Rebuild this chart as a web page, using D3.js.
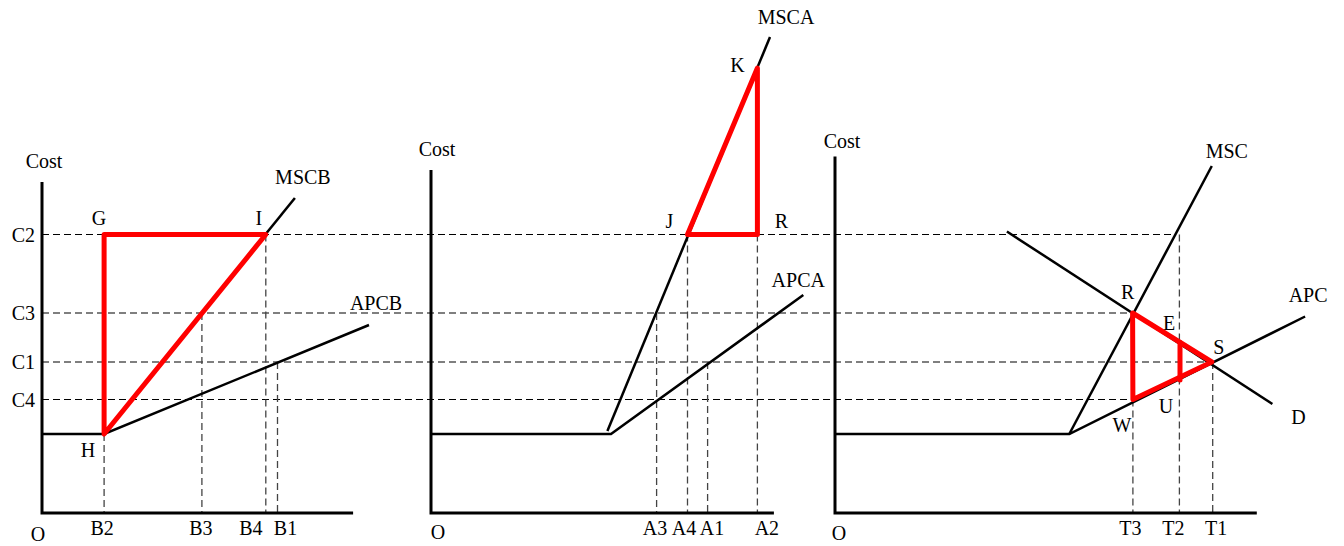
<!DOCTYPE html>
<html lang="en">
<head>
<meta charset="UTF-8" />
<title>Cost diagrams</title>
<script src="https://d3js.org/d3.v7.min.js"></script>
<style>
  body { margin: 0; background: #fff; }
  svg { display: block; }
  svg text {
    font-family: "Liberation Serif", "Times New Roman", Times, "DejaVu Serif", serif;
    font-size: 20px;
    fill: #000;
  }
  .guide { stroke: #000; stroke-width: 1.2; stroke-dasharray: 7,4; fill: none; }
  .drop { stroke: #444; stroke-width: 1.3; stroke-dasharray: 7,4; fill: none; }
  .curve { stroke: #000; stroke-width: 2.5; fill: none; }
  .axis { stroke: #000; stroke-width: 3; fill: none; }
  .red { stroke: #ff0000; stroke-width: 5; fill: none; stroke-linejoin: round; stroke-linecap: round; }
</style>
</head>
<body>
<div id="chart"></div>

<script>
// cost levels (shared by all three panels), cost units 0-100
const costNames = ["C2", "C3", "C1", "C4"];
const costValues = [55.7, 40, 30.2, 22.7];
// quantity in the third panel where each cost guide stops
const costEnds = [112.8, 99.2, 125.6, 99.3];

// axis extents per panel: quantity max and cost top
const axisQMax = [103.7, 114.3, 140.6];
const axisCTop = [66.2, 68.6, 71.3];

// panel 1 (B)
const qNamesB = ["B2", "B3", "B4", "B1"];
const qValuesB = [20.7, 53.3, 74.6, 78.5];
const qTopsB = [15.8, 40, 55.7, 30.2];
const apcbPts = [[0, 15.8], [20.7, 15.8], [109, 37.6]];
const mscbPts = [[20.7, 15.8], [84.3, 63]];
const triB = [["G", 20.7, 55.7], ["I", 74.6, 55.7], ["H", 20.7, 15.8]];

// panel 2 (A)
const qNamesA = ["A3", "A4", "A1", "A2"];
const qValuesA = [75.2, 85.5, 92.2, 108.8];
const qTopsA = [40, 55.7, 30.2, 55.7];
const apcaPts = [[0, 15.8], [60, 15.8], [124.1, 43.6]];
const mscaPts = [[58.8, 16.4], [113, 95.2]];
const triA = [["J", 85.5, 55.7], ["K", 108.8, 89], ["R", 108.8, 55.7]];

// panel 3 (T)
const qNamesT = ["T3", "T2", "T1"];
const qValuesT = [99.3, 114.8, 125.9];
const qTopsT = [22.7, 55.7, 30.2];
const apcPts = [[0, 15.8], [78.1, 15.8], [156.7, 39.3]];
const mscPts = [[78.1, 15.8], [125.6, 69.4]];
const dPts = [[57.3, 56.3], [145.8, 21.8]];
const triT = [["R", 99.2, 40], ["S", 125.6, 30.2], ["W", 99.3, 22.7]];
const segT = [["E", 115, 34.1], ["U", 115, 26.6]];

const width = 1344, height = 546;

const svg = d3.select("#chart").append("svg")
  .attr("width", width)
  .attr("height", height)
  .attr("font-family", "Liberation Serif, serif");

const y = d3.scaleLinear().domain([0, 100]).range([513, 13]);
const origins = [42, 431, 835];
const xs = origins.map(x0 => d3.scaleLinear().domain([0, 100]).range([x0, x0 + 300]));

const line = (xsc) => d3.line().x(d => xsc(d[0])).y(d => y(d[1]));

// horizontal cost guides, running from the first axis into the third panel
svg.append("g").selectAll("line")
  .data(costValues)
  .join("line")
  .attr("class", "guide")
  .attr("x1", xs[0](0))
  .attr("x2", (d, i) => xs[2](costEnds[i]))
  .attr("y1", d => y(d))
  .attr("y2", d => y(d));

svg.append("g").selectAll("text")
  .data(costNames)
  .join("text")
  .attr("x", xs[0](0) - 7)
  .attr("y", (d, i) => y(costValues[i]))
  .attr("dy", "0.35em")
  .attr("text-anchor", "end")
  .text(d => d);

const panels = [
  { names: qNamesB, values: qValuesB, tops: qTopsB, curves: [apcbPts, mscbPts],
    nudge: [-2, -1, -15, 8], costPos: [2, -21], oPos: [-4, 21] },
  { names: qNamesA, values: qValuesA, tops: qTopsA, curves: [apcaPts, mscaPts],
    nudge: [-1.5, -3.5, 4.5, 9.5], costPos: [6, -21], oPos: [7, 19] },
  { names: qNamesT, values: qValuesT, tops: qTopsT, curves: [apcPts, mscPts, dPts],
    nudge: [-2.5, -6, 3.5], costPos: [7, -15.5], oPos: [4, 20] }
];

panels.forEach((p, i) => {
  const x = xs[i];
  const g = svg.append("g");

  // vertical drop lines
  g.selectAll("line.drop")
    .data(p.values)
    .join("line")
    .attr("class", "drop")
    .attr("x1", d => x(d)).attr("x2", d => x(d))
    .attr("y1", (d, j) => y(p.tops[j]))
    .attr("y2", y(0));

  // curves
  p.curves.forEach(pts => {
    g.append("path").attr("class", "curve").attr("d", line(x)(pts));
  });

  // quantity labels
  g.selectAll("text.q")
    .data(p.names)
    .join("text")
    .attr("x", (d, j) => x(p.values[j]) + p.nudge[j])
    .attr("y", y(0) + 15)
    .attr("dy", "0.35em")
    .attr("text-anchor", "middle")
    .text(d => d);

  g.append("text")
    .attr("x", x(0) + p.costPos[0])
    .attr("y", y(axisCTop[i]) + p.costPos[1])
    .attr("dy", "0.35em")
    .attr("text-anchor", "middle")
    .text("Cost");

  g.append("text")
    .attr("x", x(0) + p.oPos[0])
    .attr("y", y(0) + p.oPos[1])
    .attr("dy", "0.35em")
    .attr("text-anchor", "middle")
    .text("O");
});

// red triangles
const triPath = (xsc, pts) => line(xsc)(pts.map(d => [d[1], d[2]])) + "Z";
svg.append("path").attr("class", "red").attr("d", triPath(xs[0], triB));
svg.append("path").attr("class", "red").attr("d", triPath(xs[1], triA));
svg.append("path").attr("class", "red").attr("d", triPath(xs[2], triT));
svg.append("path").attr("class", "red").attr("d", line(xs[2])(segT.map(d => [d[1], d[2]])));

// axes
xs.forEach((x, i) => {
  svg.append("path").attr("class", "axis")
    .attr("d", `M${x(0)},${y(axisCTop[i])}V${y(0)}H${x(axisQMax[i])}`);
});

// point and curve labels: [name, panel, anchor point, dx, dy]
const pointLabels = [
  ["G", 0, triB[0], -5, -17],
  ["I", 0, triB[1], -7, -17],
  ["H", 0, triB[2], -16, 16],
  ["MSCB", 0, ["", ...mscbPts[1]], 8, -21],
  ["APCB", 0, ["", ...apcbPts[2]], 7, -22],
  ["J", 1, triA[0], -18, -14],
  ["K", 1, triA[1], -20, -3],
  ["R", 1, triA[2], 24, -14],
  ["MSCA", 1, ["", ...mscaPts[1]], 16, -20],
  ["APCA", 1, ["", ...apcaPts[2]], -5, -15],
  ["R", 2, triT[0], -5, -21],
  ["S", 2, triT[1], 7, -15],
  ["W", 2, triT[2], -11, 25],
  ["E", 2, segT[0], -11, -20],
  ["U", 2, segT[1], -14, 26],
  ["MSC", 2, ["", ...mscPts[1]], 15, -15],
  ["APC", 2, ["", ...apcPts[2]], 3, -22],
  ["D", 2, ["", ...dPts[1]], 26, 13]
];

svg.append("g").selectAll("text")
  .data(pointLabels)
  .join("text")
  .attr("x", d => xs[d[1]](d[2][1]) + d[3])
  .attr("y", d => y(d[2][2]) + d[4])
  .attr("dy", "0.35em")
  .attr("text-anchor", "middle")
  .text(d => d[0]);
</script>
</body>
</html>
